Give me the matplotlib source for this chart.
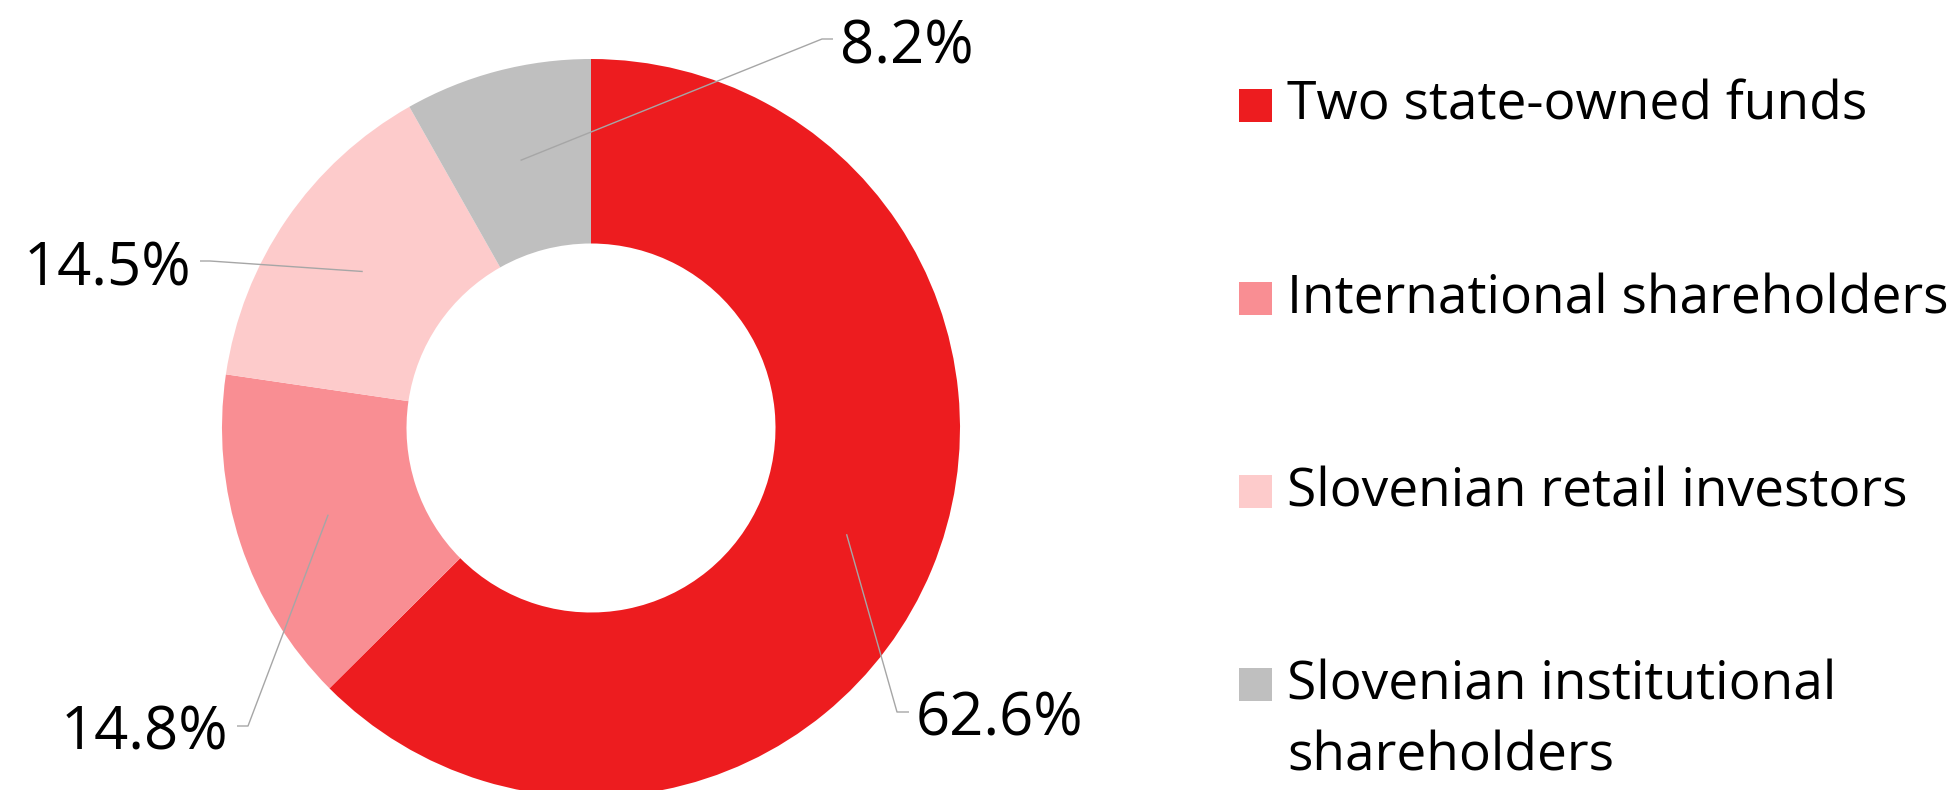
import matplotlib.pyplot as plt
import numpy as np
from matplotlib.patches import Rectangle

# data
categories = ['Two state-owned funds', 'International shareholders',
              'Slovenian retail investors', 'Slovenian institutional\nshareholders']
shares = [62.6, 14.8, 14.5, 8.2]
colors = ['#ED1C1F', '#F98E93', '#FDCBCB', '#BFBFBF']

W, H = 1957, 790
plt.rcParams['font.family'] = ['Open Sans', 'DejaVu Sans']

fig = plt.figure(figsize=(W / 100, H / 100), dpi=100)
ax = fig.add_axes([0, 0, 1, 1])

# axes in pixel units, y up
cx, cy, R = 591, H - 428, 369
wedges, _ = ax.pie(shares, colors=colors, startangle=90, counterclock=False,
                   center=(cx, cy), radius=R,
                   wedgeprops=dict(width=R * 0.5, linewidth=0))
ax.set_xlim(0, W)
ax.set_ylim(0, H)
ax.set_aspect('equal')
ax.axis('off')

# leader line layout (image px): elbow x, elbow y, end of short horizontal, side
label_pos = [(897, 712, 909, 'left'),
             (248, 726, 237, 'right'),
             (210, 261, 200, 'right'),
             (822, 39, 833, 'left')]

line_col = '#A6A6A6'
for w, v, (ex, ey, hx, side) in zip(wedges, shares, label_pos):
    mid = np.deg2rad((w.theta1 + w.theta2) / 2)
    r = R * 0.75
    px, py = cx + r * np.cos(mid), cy + r * np.sin(mid)
    ax.plot([px, ex, hx], [py, H - ey, H - ey], color=line_col, lw=1.0,
            solid_capstyle='butt', zorder=3)
    tx = hx + 7 if side == 'left' else hx - 9
    ax.text(tx, H - ey - 24, f'{v:.1f}%', ha=side, va='baseline',
            fontsize=43, color='black', zorder=4)

# legend drawn by hand
sq = 33
for i, (lab, col) in enumerate(zip(categories, colors)):
    yc = 105 + i * 193.3
    ax.add_patch(Rectangle((1239, H - yc - sq / 2), sq, sq, facecolor=col,
                           edgecolor='none', clip_on=False))
    for j, line in enumerate(lab.split('\n')):
        ax.text(1287, H - (yc + 15 + j * 71), line, ha='left', va='baseline',
                fontsize=38.3, color='black')

fig.savefig('out.png', dpi=100)
